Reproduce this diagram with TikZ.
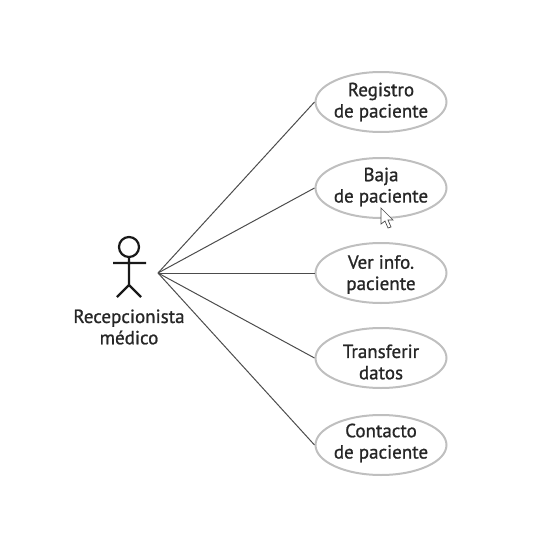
\documentclass[tikz,border=0pt]{standalone}
\usepackage{fontspec}
\setmainfont{PT Sans}[FakeBold=1]
\usetikzlibrary{shapes.geometric}
\tikzset{
  px/.style={x=1pt,y=-1pt},
  usecase/.style={ellipse,draw=black!25,line width=2pt,minimum width=131pt,minimum height=60pt,inner sep=0pt},
  caselabel/.style={align=center,inner sep=0pt,font=\fontsize{19}{21.3}\selectfont,text=black!85},
  link/.style={draw=black!70,line width=1pt},
  actorline/.style={draw=black!90,line width=2.2pt},
}
\begin{document}
\begin{tikzpicture}[px]
\useasboundingbox (0,0) rectangle (547,533);
\node[usecase] (u1) at (381,102) {};
\node[usecase] (u2) at (381,188) {};
\node[usecase] (u3) at (381,273) {};
\node[usecase] (u4) at (381,358) {};
\node[usecase] (u5) at (381,445) {};
\node[caselabel] (t1) at (381,102) {Registro\\de paciente};
\node[caselabel] (t2) at (381,187) {Baja\\de paciente};
\node[caselabel] (t3) at (381,274.5) {Ver info.\\paciente};
\node[caselabel] (t4) at (381,362) {Transferir\\datos};
\node[caselabel] (t5) at (381,443) {Contacto\\de paciente};
\coordinate (hub) at (158,273);
\foreach \u in {u1,u2,u3,u4,u5} \draw[link] (hub) -- (\u.west);
\draw[actorline] (129,247) circle[radius=10];
\draw[actorline] (129,257) -- (129,285) (113,263) -- (146,263) (117,297) -- (129,285) -- (141,297);
\node[caselabel] (actor) at (129,327) {Recepcionista\\médico};
\draw[black!70,fill=white,line width=.7pt] (381,208) -- (381,224) -- (385,221) -- (388,228) -- (391,227) -- (388,220) -- (393,220) -- cycle;
\end{tikzpicture}
\end{document}
